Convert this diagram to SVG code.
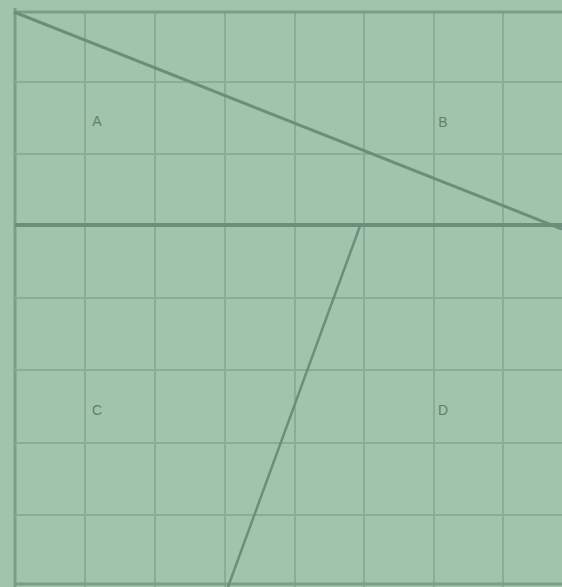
<svg xmlns="http://www.w3.org/2000/svg" width="562" height="587" viewBox="0 0 562 587">
<style>
.grid{stroke:#89ad97;stroke-width:2;fill:none}
.main{stroke:#6b8f7a;fill:none}
.lbl{font-family:"Liberation Sans",Arial,sans-serif;font-size:14px;fill:#5f806d;text-anchor:middle}
</style>
<rect width="562" height="587" fill="#a1c4ad"/>
<g id="grid" class="grid">
<line x1="15" y1="8" x2="15" y2="587" stroke-width="3" stroke="#7a9e88"/>
<line x1="85" y1="12" x2="85" y2="587"/>
<line x1="155" y1="12" x2="155" y2="587"/>
<line x1="225" y1="12" x2="225" y2="587"/>
<line x1="295" y1="12" x2="295" y2="587"/>
<line x1="364" y1="12" x2="364" y2="587"/>
<line x1="434" y1="12" x2="434" y2="587"/>
<line x1="503" y1="12" x2="503" y2="587"/>
<line x1="15" y1="12" x2="562" y2="12" stroke-width="3" stroke="#7a9e88"/>
<line x1="15" y1="82" x2="562" y2="82"/>
<line x1="15" y1="154" x2="562" y2="154"/>
<line x1="15" y1="298" x2="562" y2="298"/>
<line x1="15" y1="370" x2="562" y2="370"/>
<line x1="15" y1="443" x2="562" y2="443"/>
<line x1="15" y1="515" x2="562" y2="515"/>
<line x1="15" y1="584" x2="562" y2="584" stroke-width="3" stroke="#7a9e88"/>
</g>
<g id="connectors" class="main">
<line x1="15" y1="225" x2="562" y2="225" stroke-width="4"/>
<line x1="14" y1="12" x2="562" y2="229" stroke-width="3"/>
<line x1="360" y1="226" x2="228" y2="587" stroke-width="2.5"/>
</g>
<g id="A"><text class="lbl" x="97" y="126">A</text></g>
<g id="B"><text class="lbl" x="443" y="127">B</text></g>
<g id="C"><text class="lbl" x="97" y="415">C</text></g>
<g id="D"><text class="lbl" x="443" y="415">D</text></g>
</svg>
